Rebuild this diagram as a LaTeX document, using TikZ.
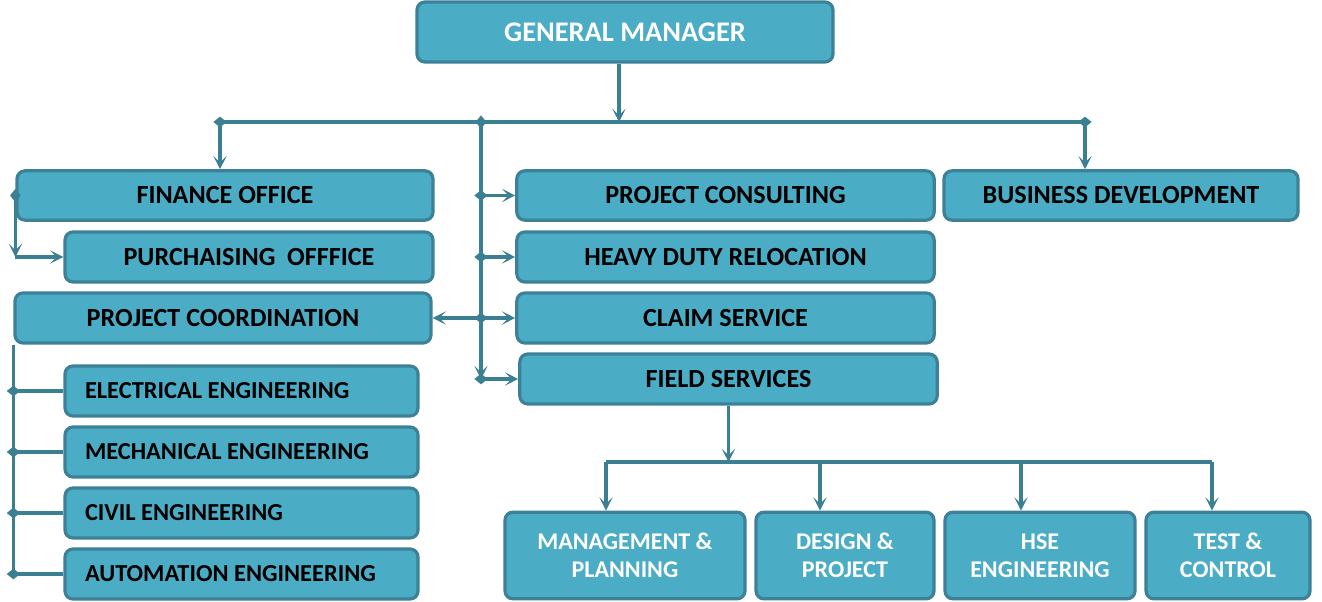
\documentclass[tikz,border=0pt]{standalone}
\usepackage{fontspec}
\setmainfont{Carlito}
\usetikzlibrary{arrows.meta}

\definecolor{unitfill}{HTML}{4BACC6}
\definecolor{unitline}{HTML}{3C8197}
\definecolor{wire}{HTML}{3B7F92}

\tikzset{dia/.tip = {Diamond[length = 10pt, width = 8pt, sep = -5pt]}}

\begin{document}
\begin{tikzpicture}[x = 0.75pt, y = -0.75pt, line width = 2.8pt, color = wire,
    >= {Stealth[length = 10pt, width = 10pt, inset = 5pt]}]
  \tikzstyle{unit} = [draw = unitline, fill = unitfill, rounded corners = 6pt, inner sep = 0pt,
                      line width = 2.4pt, text = black, minimum height = 37.5pt,
                      font = \bfseries\fontsize{19.6}{23}\selectfont]
  \tikzstyle{eng}  = [unit, text width = 234.75pt, inner xsep = 15pt, align = flush left,
                      font = \bfseries\fontsize{18.3}{22}\selectfont]
  \tikzstyle{team} = [unit, minimum height = 65pt, align = center, text = white,
                      font = \bfseries\fontsize{18}{21}\selectfont]
  \useasboundingbox (0,0) rectangle (1322,602);

  \node[unit, minimum width = 312pt, minimum height = 45pt, text = white,
        font = \bfseries\fontsize{21.3}{25}\selectfont] (gm) at (625,32) {GENERAL MANAGER};
  \node[unit, minimum width = 312pt, minimum height = 37pt] (fin) at (225,195.5) {FINANCE OFFICE};
  \node[unit, minimum width = 276pt]  (pur) at (249,257)     {PURCHAISING\ \ OFFFICE};
  \node[unit, minimum width = 312pt]  (pco) at (223,318)     {PROJECT COORDINATION};
  \node[eng]                          (ele) at (241.5,391)   {ELECTRICAL ENGINEERING};
  \node[eng]                          (mec) at (241.5,452)   {MECHANICAL ENGINEERING};
  \node[eng]                          (civ) at (241.5,513)   {CIVIL ENGINEERING};
  \node[eng]                          (aut) at (241.5,574)   {AUTOMATION ENGINEERING};
  \node[unit, minimum width = 313pt, minimum height = 37pt] (con) at (725.5,195.5) {PROJECT CONSULTING};
  \node[unit, minimum width = 313pt]  (hdr) at (725.5,257)   {HEAVY DUTY RELOCATION};
  \node[unit, minimum width = 313pt]  (cla) at (725.5,318)   {CLAIM SERVICE};
  \node[unit, minimum width = 313pt]  (fld) at (728.5,379)   {FIELD SERVICES};
  \node[unit, minimum width = 265.5pt, minimum height = 37pt] (bus) at (1121,195.5) {BUSINESS DEVELOPMENT};
  \node[team, minimum width = 180pt]  (mgt) at (625,555.5)   {MANAGEMENT \&\\PLANNING};
  \node[team, minimum width = 133.5pt] (des) at (845,555.5)  {DESIGN \&\\PROJECT};
  \node[team, minimum width = 142.5pt] (hse) at (1040,555.5) {HSE\\ENGINEERING};
  \node[team, minimum width = 123pt]  (tst) at (1228,555.5)  {TEST \&\\CONTROL};

  % junctions
  \coordinate (top) at (619,122);
  \coordinate (lft) at (220,122);
  \coordinate (mid) at (481,122);
  \coordinate (rgt) at (1085,122);
  \coordinate (low) at (481,379);
  \coordinate (fan) at (728.5,462);
  \foreach \t/\x in {mgt/606, des/820, hse/1021, tst/1212}
    \coordinate (drop-\t) at (\x,462);

  % general manager
  \draw[dia-dia] (lft) -- (rgt);
  \path[->] (gm.south -| top) edge (top)
            (lft) edge (lft |- fin.north)
            (rgt) edge (rgt |- bus.north);

  % middle column
  \draw[dia->] (mid) -- (low);
  \path[dia->] (mid |- con.west) edge (con.west)
               (mid |- hdr.west) edge (hdr.west)
               (mid |- cla.west) edge (cla.west)
               (low) edge (fld.west);
  \draw[->] (mid |- pco.east) -- (pco.east);

  % left column
  \draw[dia->] (fin.west) -- (fin.west |- pur.west);
  \draw[->] (fin.west |- pur.west) -- (pur.west);
  \draw (pco.west |- pco.south) -- (pco.west |- aut.west);
  \foreach \e in {ele, mec, civ, aut}
    \draw[dia-] (pco.west |- \e.west) -- (\e.west);

  % field services
  \path[->] (fld.south) edge (fan);
  \draw (drop-mgt) -- (drop-tst);
  \foreach \t in {mgt, des, hse, tst}
    \path[->] (drop-\t) edge (drop-\t |- \t.north);
\end{tikzpicture}
\end{document}
